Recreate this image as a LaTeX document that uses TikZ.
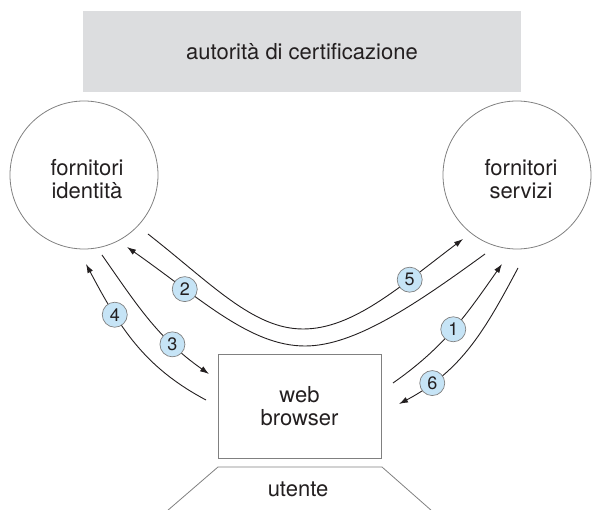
\documentclass[tikz,border=0pt]{standalone}
\usepackage{fontspec}
\setmainfont{TeX Gyre Heros}
\usetikzlibrary{arrows.meta}
\definecolor{cagray}{HTML}{DCDDDF}
\definecolor{edgegray}{HTML}{808080}
\definecolor{lblue}{HTML}{C6E4F6}
\definecolor{ink}{HTML}{231F20}
\begin{document}
\begin{tikzpicture}[x=1pt,y=-1pt,
  maintext/.style={font=\fontsize{22}{23}\selectfont, text=ink, align=center},
  bubble/.style={circle, draw=edgegray, line width=0.8pt, minimum size=148pt, inner sep=0pt},
  num/.style={circle, draw=edgegray, line width=0.7pt, fill=lblue, minimum size=25pt, inner sep=0pt, font=\fontsize{18}{18}\selectfont, text=ink},
  flow/.style={line width=0.9pt, draw=ink},
  tipend/.style={-{Latex[length=9pt,width=6pt]}},
  tipstart/.style={{Latex[length=9pt,width=6pt]}-}]
\useasboundingbox (0,0) rectangle (592,510);
% certification authority
\node[fill=cagray, minimum width=438pt, minimum height=81pt, inner sep=0pt, maintext] (ca) at (302,51.5) {autorità di certificazione};
% providers
\node[bubble] (idp) at (84,175) {};
\node[maintext] (idptext) at (87,179) {fornitori\\identità};
\node[bubble] (sp) at (517,175) {};
\node[maintext] (sptext) at (521,179) {fornitori\\servizi};
% browser
\node[draw=edgegray, line width=0.8pt, fill=white, minimum width=163pt, minimum height=104pt, inner sep=0pt, maintext] (wb) at (299.5,406) {web\\browser};
% user
\coordinate (u1) at (167,511);
\coordinate (u2) at (218,467);
\coordinate (u3) at (382,467);
\coordinate (u4) at (432,511);
\draw[edgegray, line width=0.8pt] (u1) -- (u2) -- (u3) -- (u4);
\node[maintext] (user) at (298,489) {utente};
% connector end points
\coordinate (a2) at (127,247);
\coordinate (bot2) at (305,346);
\coordinate (s2) at (485,254);
\coordinate (s5) at (148,234);
\coordinate (bot5) at (303,329);
\coordinate (a5) at (463,239);
\coordinate (s3) at (102,255);
\coordinate (e3) at (209,374);
\coordinate (e4) at (86,264);
\coordinate (s4) at (206,400);
\coordinate (s1) at (393,383);
\coordinate (e1) at (502,264);
\coordinate (s6) at (518,268);
\coordinate (e6) at (399,404);
% 2 : outer long curve, arrow at identity providers
\draw[flow, tipstart] (a2) .. controls (200.7,298.7) and (250,346) .. (bot2) node[num, pos=0.285] (n2) {2}
  .. controls (355,346) and (416.2,304) .. (s2);
% 5 : inner long curve, arrow at service providers
\draw[flow, tipend] (s5) .. controls (211,283.3) and (253,329) .. (bot5)
  .. controls (353,329) and (399.1,287.2) .. (a5) node[num, pos=0.7] (n5) {5};
% 3
\draw[flow, tipend] (s3) .. controls (137.5,305.9) and (158.2,338.4) .. (e3) node[num, pos=0.72] (n3) {3};
% 4
\draw[flow, tipstart] (e4) .. controls (119.3,326.7) and (143.3,366.7) .. (s4) node[num, pos=0.3] (n4) {4};
% 1
\draw[flow, tipend] (s1) .. controls (444.6,346.8) and (465.8,315.6) .. (e1) node[num, pos=0.5] (n1) {1};
% 6
\draw[flow, tipend] (s6) .. controls (484.7,330.7) and (461.7,370.7) .. (e6) node[num, pos=0.8] (n6) {6};
\end{tikzpicture}
\end{document}
